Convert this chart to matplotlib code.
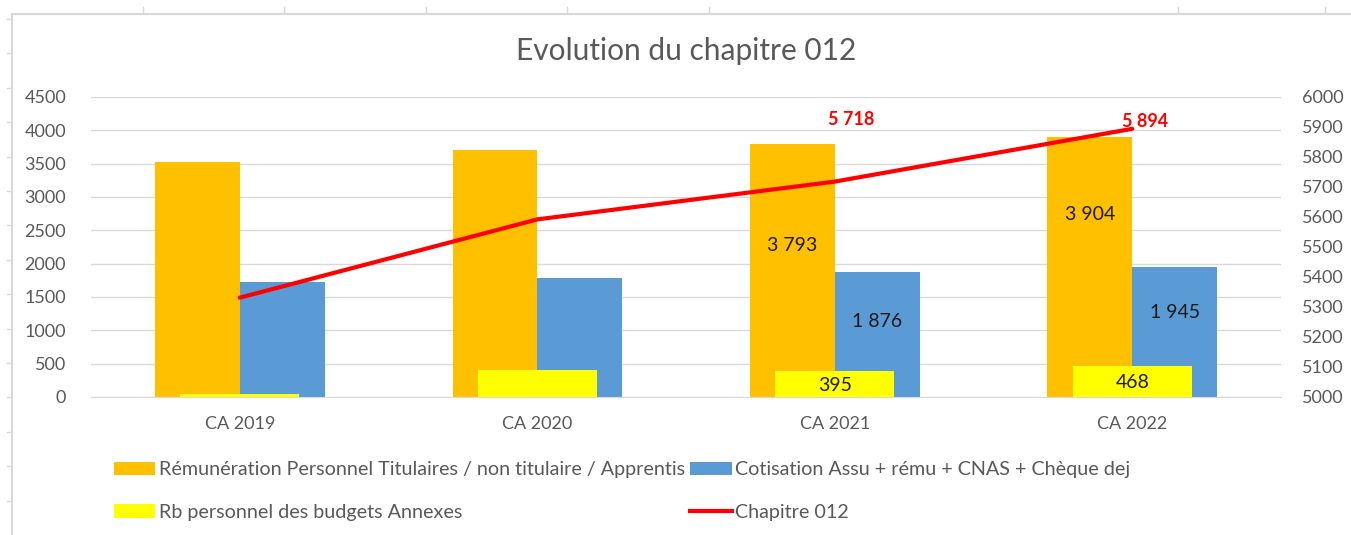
import matplotlib.pyplot as plt
from matplotlib.lines import Line2D
import numpy as np

plt.rcParams['font.family'] = ['Lato', 'DejaVu Sans']

categories = ['CA 2019', 'CA 2020', 'CA 2021', 'CA 2022']
remuneration = [3525, 3712, 3793, 3904]
cotisation = [1732, 1783, 1876, 1945]
budgets_annexes = [45, 398, 395, 468]
chapitre_012 = [5331, 5592, 5718, 5894]

label_remun = 'Rémunération Personnel Titulaires / non titulaire / Apprentis'
label_cotis = 'Cotisation Assu + rému + CNAS + Chèque dej'
label_annexes = 'Rb personnel des budgets Annexes'
label_chap = 'Chapitre 012'

# only the last two years carry data labels in the original
labelled = [2, 3]
remun_label_frac = [0.60, 0.70]
cotis_label_frac = [0.60, 0.65]

c_orange = '#FFC000'
c_blue = '#5B9BD5'
c_yellow = '#FFFF00'
c_red = '#FF0000'
c_text = '#595959'
c_grid = '#D9D9D9'

fig = plt.figure(figsize=(13.51, 5.35), dpi=100)
ax = fig.add_axes([0.0674, 0.258, 0.8808, 0.5607])

x = np.arange(len(categories))
w = 0.285

ax.bar(x - w / 2, remuneration, w, color=c_orange, zorder=2, label=label_remun)
ax.bar(x + w / 2, cotisation, w, color=c_blue, zorder=2, label=label_cotis)
ax.bar(x, budgets_annexes, 0.40, color=c_yellow, zorder=3, label=label_annexes)

ax.set_xlim(-0.5, len(categories) - 0.5)
ax.set_ylim(0, 4500)
ax.set_yticks(np.arange(0, 4501, 500))
ax.set_xticks(x)
ax.set_xticklabels(categories)
ax.grid(axis='y', color=c_grid, lw=1, zorder=0)
ax.set_axisbelow(True)
for s in ['top', 'right', 'left']:
    ax.spines[s].set_visible(False)
ax.spines['bottom'].set_color(c_grid)
ax.tick_params(axis='both', length=0, colors=c_text, labelsize=13)
ax.tick_params(axis='x', pad=14)
ax.tick_params(axis='y', pad=18)

def fmt(v):
    return f'{v:,}'.replace(',', ' ')

for i, fr in zip(labelled, remun_label_frac):
    ax.text(i - w / 2, remuneration[i] * fr, fmt(remuneration[i]), ha='center', va='center',
            fontsize=14, color='#1a1a1a', zorder=5)
for i, fr in zip(labelled, cotis_label_frac):
    ax.text(i + w / 2, cotisation[i] * fr, fmt(cotisation[i]), ha='center', va='center',
            fontsize=14, color='#1a1a1a', zorder=5)
for i in labelled:
    ax.text(i, budgets_annexes[i] * 0.45, fmt(budgets_annexes[i]), ha='center', va='center',
            fontsize=14, color='#1a1a1a', zorder=5)

ax2 = ax.twinx()
ax2.plot(x, chapitre_012, color=c_red, lw=3, solid_capstyle='round', zorder=4)
ax2.set_ylim(5000, 6000)
ax2.set_yticks(np.arange(5000, 6001, 100))
for s in ax2.spines.values():
    s.set_visible(False)
ax2.tick_params(axis='y', length=0, colors=c_text, labelsize=13, pad=15)

red_offsets = [(12, 45), (9, 5)]
for i, off in zip(labelled, red_offsets):
    ax2.annotate(fmt(chapitre_012[i]), (x[i], chapitre_012[i]), xytext=off,
                 textcoords='offset points', ha='center', va='center',
                 color=c_red, fontweight='bold', fontsize=13)

fig.text(0.508, 0.905, 'Evolution du chapitre 012', ha='center', va='center',
         fontsize=21.5, color=c_text)

handles, labels = ax.get_legend_handles_labels()
line_handle = Line2D([0], [0], color=c_red, lw=3)
order = [handles[0], handles[2], handles[1], line_handle]
order_labels = [labels[0], labels[2], labels[1], label_chap]
fig.legend(order, order_labels, ncol=2, loc='center left', bbox_to_anchor=(0.071, 0.082),
           frameon=False, fontsize=14.2, labelcolor=c_text, handlelength=2.1,
           handleheight=0.65, handletextpad=0.2, columnspacing=0.25, labelspacing=1.3)

# spreadsheet frame around the chart
fig.add_artist(Line2D([12 / 1351, 1], [1 - 14 / 535] * 2, color=c_grid, lw=1.5))
fig.add_artist(Line2D([12 / 1351] * 2, [0, 1 - 14 / 535], color=c_grid, lw=1.5))
for px in [143, 284, 426, 567, 709, 1178, 1325]:
    fig.add_artist(Line2D([px / 1351] * 2, [1 - 7 / 535, 1 - 13 / 535], color=c_grid, lw=1))
for py in np.arange(19, 535, 34.4):
    fig.add_artist(Line2D([7 / 1351, 12 / 1351], [1 - py / 535] * 2, color=c_grid, lw=1))

fig.savefig('out.png', dpi=100)
